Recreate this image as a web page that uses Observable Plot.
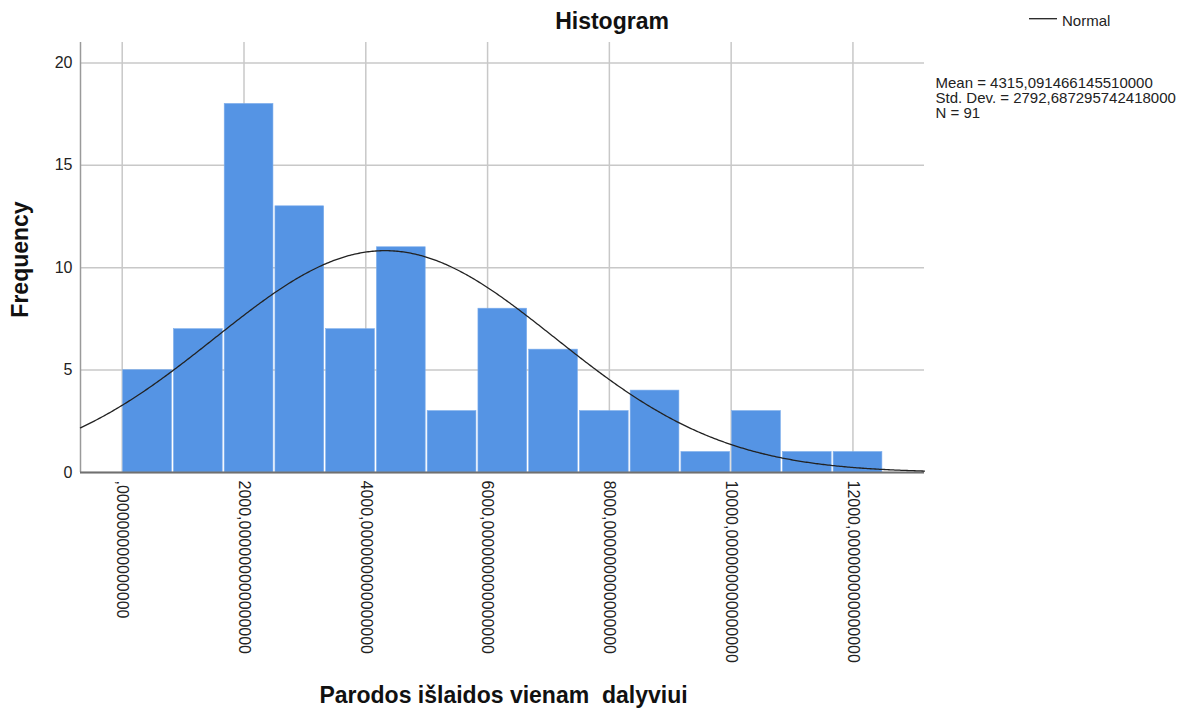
<!DOCTYPE html>
<html><head><meta charset="utf-8">
<script src="https://cdn.jsdelivr.net/npm/d3@7"></script>
<script src="https://cdn.jsdelivr.net/npm/@observablehq/plot@0.6"></script>
<style>
html,body{margin:0;padding:0;background:#fff;}
svg text{white-space:pre;}
</style></head><body><div id="chart"></div>
<script>
// ---- data ----
const binLower = [0, 833.33, 1666.67, 2500, 3333.33, 4166.67, 5000, 5833.33, 6666.67, 7500, 8333.33, 9166.67, 10000, 10833.33, 11666.67];
const binWidth = 833.33;
const frequencies = [5, 7, 18, 13, 7, 11, 3, 8, 6, 3, 4, 1, 3, 1, 1];
const xTicks = [0, 2000, 4000, 6000, 8000, 10000, 12000];
const xTickLabels = [",000000000000000", "2000,000000000000000", "4000,000000000000000", "6000,000000000000000", "8000,000000000000000", "10000,000000000000000", "12000,000000000000000"];
const yTicks = [0, 5, 10, 15, 20];
const xDomain = [-685, 13175];
const yDomain = [0, 21];
const mean = 4315.091466145510000;
const stdDev = 2792.687295742418000;
const nCases = 91;
const statsLines = ["Mean = 4315,091466145510000", "Std. Dev. = 2792,687295742418000", "N = 91"];
const titleText = "Histogram";
const xLabel = "Parodos išlaidos vienam  dalyviui";
const yLabel = "Frequency";
const legendLabel = "Normal";

// ---- derived tables ----
const bins = binLower.map((lo, i) => ({x1: lo, x2: lo + binWidth, count: frequencies[i]}));
const scaleK = nCases * binWidth / (stdDev * Math.sqrt(2 * Math.PI));
const curveX = d3.range(xDomain[0], xDomain[1], 25).concat([xDomain[1]]);
const curve = curveX.map(x => ({x, y: scaleK * Math.exp(-0.5 * ((x - mean) / stdDev) ** 2)}));

const font = "'Liberation Sans', Arial, sans-serif";

const chart = Plot.plot({
  width: 1194,
  height: 709,
  marginLeft: 80,
  marginRight: 270,
  marginTop: 42,
  marginBottom: 237,
  style: {fontFamily: font, fontSize: "16px", color: "#222", background: "#fff", overflow: "visible"},
  x: {domain: xDomain, label: null},
  y: {domain: yDomain, label: null},
  marks: [
    Plot.gridX(xTicks, {stroke: "#c8c8c8", strokeOpacity: 1, strokeWidth: 1.5}),
    Plot.gridY(yTicks, {stroke: "#c8c8c8", strokeOpacity: 1, strokeWidth: 1.5}),
    Plot.ruleX([xDomain[0]], {stroke: "#9a9a9a", strokeWidth: 1.5}),
    Plot.rectY(bins, {x1: "x1", x2: "x2", y: "count", fill: "#5594e4", stroke: "#7eaeec", strokeWidth: 0.6, insetLeft: 1, insetRight: 1}),
    Plot.ruleY([0], {stroke: "#707070", strokeWidth: 2}),
    Plot.line(curve, {x: "x", y: "y", stroke: "#222", strokeWidth: 1.3}),
    Plot.axisX(xTicks, {tickSize: 0, tickPadding: 8, tickRotate: 90, fontSize: 16, label: null,
      tickFormat: d => xTickLabels[xTicks.indexOf(d)]}),
    Plot.axisY(yTicks, {tickSize: 0, tickPadding: 8, fontSize: 16, label: null}),
    Plot.text([titleText], {text: d => d, frameAnchor: "top", dx: 109.5, dy: -21, lineAnchor: "middle",
      textAnchor: "middle", fontSize: 23, fontWeight: "bold", fill: "#111"}),
    Plot.text([xLabel], {text: d => d, frameAnchor: "bottom", dx: 1, dy: 223, lineAnchor: "middle",
      textAnchor: "middle", fontSize: 23, fontWeight: "bold", fill: "#111"}),
    Plot.text([yLabel], {text: d => d, frameAnchor: "left", dx: -59.5, dy: 2, rotate: -90, lineAnchor: "middle",
      textAnchor: "middle", fontSize: 23, fontWeight: "bold", fill: "#111"}),
    Plot.text([statsLines.join("\n")], {text: d => d, frameAnchor: "top-right", dx: 11, dy: 35,
      textAnchor: "start", lineAnchor: "top", lineHeight: 1.0, fontSize: 15, fill: "#222",
      letterSpacing: "0.5px"}),
    Plot.text([legendLabel], {text: d => d, frameAnchor: "top-right", dx: 137.5, dy: -21.5,
      textAnchor: "start", lineAnchor: "middle", fontSize: 15, fill: "#222"})
  ]
});

// legend swatch for the normal curve
d3.select(chart).append("line")
  .attr("x1", 1029).attr("x2", 1057).attr("y1", 18.7).attr("y2", 18.7)
  .attr("stroke", "#222").attr("stroke-width", 1.3);

document.getElementById("chart").appendChild(chart);
</script>
</body></html>
